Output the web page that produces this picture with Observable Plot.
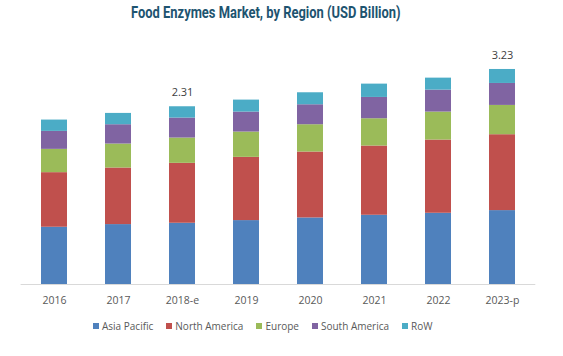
<!DOCTYPE html>
<html>
<head>
<meta charset="utf-8">
<script src="https://cdn.jsdelivr.net/npm/d3@7"></script>
<script src="https://cdn.jsdelivr.net/npm/@observablehq/plot@0.6"></script>
<style>
  html, body { margin: 0; padding: 0; background: #fff; }
  #wrap { position: relative; width: 563px; height: 356px; overflow: hidden; }
  #title { position: absolute; top: 1px; left: 266px; white-space: nowrap;
    font-family: "Roboto", sans-serif; font-weight: bold;
    font-size: 17px; line-height: 22px; color: #1e5470; transform-origin: 0 0; }
  #chart { position: absolute; top: 30px; left: 0; }
  #legend { position: absolute; top: 319px; left: 93px; display: flex; align-items: center;
    font-family: "Open Sans", sans-serif; font-size: 10px; color: #595959; white-space: nowrap; }
  #legend .item { display: flex; align-items: center; margin-right: 13px; }
  #legend .sw { width: 6px; height: 6px; margin-right: 3px; }
</style>
</head>
<body>
<div id="wrap">
  <div id="title">Food Enzymes Market, by Region (USD Billion)</div>
  <div id="chart"></div>
  <div id="legend"></div>
</div>
<script>
const years = ["2016", "2017", "2018-e", "2019", "2020", "2021", "2022", "2023-p"];
const regions = ["Asia Pacific", "North America", "Europe", "South America", "RoW"];
const colors = ["#4f81bd", "#c0504d", "#9bbb59", "#8064a2", "#4bacc6"];
const asiaPacific  = [0.86, 0.90, 0.92, 0.96, 1.00, 1.04, 1.07, 1.11];
const northAmerica = [0.82, 0.85, 0.90, 0.95, 0.99, 1.04, 1.10, 1.14];
const europe       = [0.35, 0.36, 0.38, 0.38, 0.41, 0.41, 0.42, 0.44];
const southAmerica = [0.27, 0.29, 0.30, 0.30, 0.30, 0.32, 0.33, 0.33];
const row          = [0.17, 0.17, 0.17, 0.18, 0.18, 0.20, 0.18, 0.21];
const labelYears = ["2018-e", "2023-p"];
const labelTexts = ["2.31", "3.23"];

const series = [asiaPacific, northAmerica, europe, southAmerica, row];
const data = [];
regions.forEach((r, i) => years.forEach((y, j) => data.push({year: y, region: r, value: series[i][j]})));
const totals = years.map((y, j) => series.reduce((s, a) => s + a[j], 0));
const labels = labelYears.map((y, k) => ({year: y, total: totals[years.indexOf(y)], text: labelTexts[k]}));

const chart = Plot.plot({
  width: 563,
  height: 290,
  marginLeft: 20.6,
  marginRight: 27.7,
  marginTop: 21,
  marginBottom: 36,
  style: {fontFamily: "Open Sans, sans-serif", fontSize: "10.5px", color: "#595959", background: "transparent"},
  x: {domain: years, paddingInner: 0.6, paddingOuter: 0.3, label: null, tickSize: 0, tickPadding: 12},
  y: {domain: [0, 3.5], axis: null},
  color: {domain: regions, range: colors},
  marks: [
    Plot.barY(data, {x: "year", y: "value", fill: "region", order: regions}),
    Plot.ruleY([0], {stroke: "#d9d9d9", strokeWidth: 1}),
    Plot.text(labels, {x: "year", y: "total", text: "text", dy: -14, fill: "#404040", fontSize: 11})
  ]
});
document.getElementById("chart").appendChild(chart);

const legend = document.getElementById("legend");
regions.forEach((r, i) => {
  const item = document.createElement("div");
  item.className = "item";
  const sw = document.createElement("div");
  sw.className = "sw";
  sw.style.background = colors[i];
  const t = document.createElement("span");
  t.textContent = r;
  item.appendChild(sw);
  item.appendChild(t);
  legend.appendChild(item);
});

// fit title to the reference's condensed width (~270px), centred at x=266
const title = document.getElementById("title");
const w = title.offsetWidth;
const s = 270 / w;
title.style.transform = `translateX(${-135}px) scaleX(${s})`;
</script>
</body>
</html>
